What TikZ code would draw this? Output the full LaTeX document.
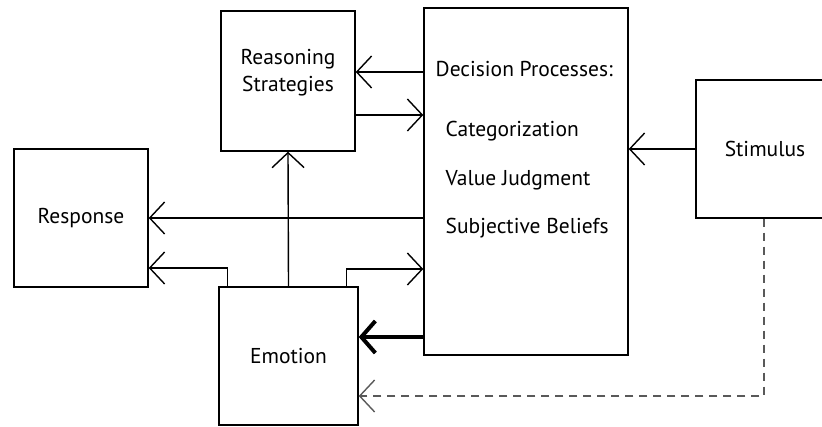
\documentclass[tikz,border=0pt]{standalone}
\usepackage{fontspec}
\setmainfont{PT Sans}
\usetikzlibrary{arrows.meta}

\begin{document}
\begin{tikzpicture}[x=1pt,y=-1pt,line width=1.4pt,
  main box/.style={draw,rectangle,inner sep=0pt,font=\fontsize{21.5}{27}\selectfont},
  item/.style={anchor=west,inner sep=0pt,font=\fontsize{21.5}{27}\selectfont},
  open arrow/.style={-{Straight Barb[length=15pt,width=32pt]}},
  heavy arrow/.style={line width=4pt,-{Straight Barb[length=14pt,width=32pt]}}]

  \useasboundingbox (0,0) rectangle (822,427);
  \clip (0,0) rectangle (822,427);

  \node[main box,minimum width=134pt,minimum height=138pt] (response) at (81,218) {Response};
  \node[main box,minimum width=134pt,minimum height=140pt] (reasoning) at (288,81) {};
  \node[main box,minimum width=139pt,minimum height=138pt] (emotion) at (288.5,356) {Emotion};
  \node[main box,minimum width=204pt,minimum height=347pt] (decision) at (526,181.5) {};
  \node[main box,minimum width=144pt,minimum height=138pt] (stimulus) at (768,149) {\hspace*{-6pt}Stimulus};

  \node[main box,draw=none,align=center] (reasoningtext) at (288,73) {Reasoning\\Strategies};
  \node[item] (title) at (435,69) {Decision Processes:};
  \node[item] (categ) at (445,131) {Categorization};
  \node[item] (value) at (445,180) {Value Judgment};
  \node[item] (belief) at (445,228) {Subjective Beliefs};

  \coordinate (e1) at ([xshift=9pt]emotion.north west);
  \coordinate (e2) at ([xshift=-12pt]emotion.north east);

  \draw[open arrow] ([yshift=9pt]decision.west |- reasoning.east) -- ([yshift=9pt]reasoning.east);
  \draw[open arrow] ([yshift=-34pt]reasoning.east) -- ([yshift=-34pt]decision.west |- reasoning.east);
  \draw[open arrow] (stimulus.west) -- (decision.east |- stimulus.west);
  \draw[open arrow] (decision.west |- response.east) -- (response.east);
  \draw[open arrow] (emotion.north) -- (reasoning.south);
  \draw[open arrow] (e1) |- ([yshift=-50pt]response.east);
  \draw[open arrow] (e2) |- ([yshift=-51pt]decision.west |- response.east);
  \draw[heavy arrow] ([yshift=19pt]decision.west |- emotion.east) -- ([yshift=19pt]emotion.east);
  \draw[open arrow,draw=black!65,dash pattern=on 8pt off 6pt] ([xshift=-4pt]stimulus.south) |- ([yshift=-40pt]emotion.east);
\end{tikzpicture}
\end{document}
